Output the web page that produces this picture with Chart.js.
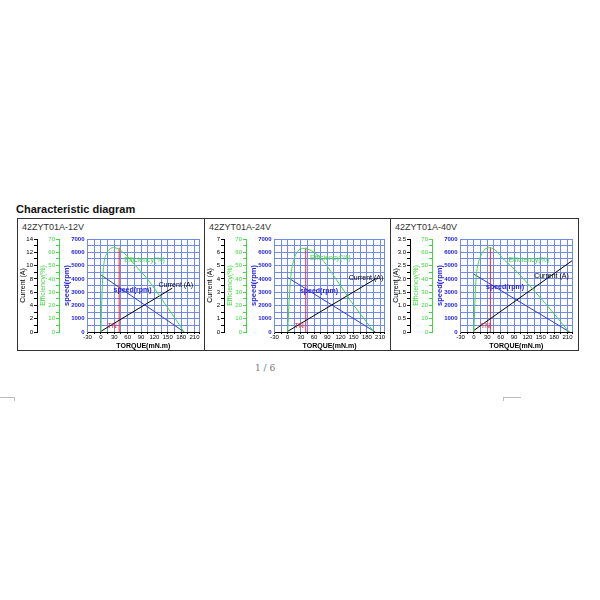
<!DOCTYPE html>
<html lang="en">
<head>
<meta charset="UTF-8">
<title>Characteristic diagram</title>
<script src="https://cdn.jsdelivr.net/npm/chart.js"></script>
<style>
  body { margin: 0; background: #fff; font-family: Arial, "Liberation Sans", sans-serif; }
  #page { position: relative; width: 600px; height: 600px; overflow: hidden; }
  h2 { position: absolute; left: 16px; top: 204px; margin: 0; font-size: 11px; line-height: 11px; font-weight: bold; color: #111; }
  #box { position: absolute; left: 17px; top: 218px; width: 560px; height: 131px; border: 1px solid #333; }
  .sep { position: absolute; top: 218px; width: 1px; height: 133px; background: #333; }
  .model { position: absolute; top: 223px; font-size: 9px; line-height: 9px; color: #333; }
  canvas { position: absolute; top: 232px; }
  #pageno { position: absolute; left: 255px; top: 364px; font-family: "DejaVu Serif", "Liberation Serif", serif; font-size: 9px; line-height: 9px; color: #777; }
  .mark { position: absolute; background: #bbb; }
</style>
</head>
<body>
<div id="page">
  <h2>Characteristic diagram</h2>
  <div id="box"></div>
  <div class="sep" style="left:204px"></div>
  <div class="sep" style="left:390px"></div>
  <div class="model" style="left:22px">42ZYT01A-12V</div>
  <div class="model" style="left:209px">42ZYT01A-24V</div>
  <div class="model" style="left:395px">42ZYT01A-40V</div>
  <canvas id="c12" width="186" height="118" style="left:18px"></canvas>
  <canvas id="c24" width="185" height="118" style="left:205px"></canvas>
  <canvas id="c40" width="187" height="118" style="left:391px"></canvas>
  <div id="pageno">1 / 6</div>
  <div class="mark" style="left:0;top:397px;width:14px;height:1px"></div>
  <div class="mark" style="left:14px;top:397px;width:1px;height:4px"></div>
  <div class="mark" style="left:503px;top:397px;width:18px;height:1px"></div>
  <div class="mark" style="left:503px;top:397px;width:1px;height:4px"></div>
</div>

<script>
// axis labels
const torqueLabels = [-30, 0, 30, 60, 90, 120, 150, 180, 210];
const currentMax = [14, 7, 3.5];
const currentLabelStep = [2, 1, 0.5];
const ratedTorque = [41, 41, 37];
const ratedTop = [6350, 6350, 6350];

// 12V
const effTorque12 = [0, 2, 4, 7, 13, 20, 29, 39, 58, 80, 103, 125, 148, 170, 186];
const effValue12 = [0, 23, 40, 52, 59, 62.5, 63.5, 62.5, 57.5, 49, 40.5, 30.5, 19, 8.5, 0];
const speedTorque12 = [0, 187];
const speedValue12 = [4300, 0];
const currentTorque12 = [0, 160];
const currentValue12 = [0.1, 6.6];

// 24V
const effTorque24 = [0, 4, 7.5, 15, 22.5, 34, 45, 64, 82.5, 101, 124, 146, 169, 187, 196];
const effValue24 = [0, 28, 43, 55.5, 60.5, 63, 62.5, 59, 53, 44, 33, 22, 12, 4, 0];
const speedTorque24 = [0, 199];
const speedValue24 = [4100, 0];
const currentTorque24 = [0, 202];
const currentValue24 = [0.05, 4.05];

// 40V
const effTorque40 = [0, 3, 5, 9, 16.5, 24, 35, 46.5, 69, 91.5, 114, 136.5, 159, 181.5, 200, 213];
const effValue40 = [0, 28, 40.5, 50.5, 58, 62, 63.5, 62, 54, 47, 39, 30.5, 22, 13, 5.5, 0];
const speedTorque40 = [0, 215];
const speedValue40 = [4350, 0];
const currentTorque40 = [0, 220];
const currentValue40 = [0.06, 2.68];

const green = '#3fd83f';
const blueText = '#2323e0';
const blueLine = '#3040c4';
const gridBlue = '#7089f0';
const red = '#ff2020';

function pts(xs, ys) {
    return xs.map((x, i) => ({ x: x, y: ys[i] }));
}

function makeChart(id, k, eff, speed, current, notes, padRight) {
    const gridTorque = [];
    for (let v = -30; v <= 210; v += 15) gridTorque.push(v);
    gridTorque.push(220);

    // curve names written inside the plot
    const curveText = {
        id: 'curveText',
        afterDatasetsDraw(chart) {
            const ctx = chart.ctx;
            ctx.save();
            ctx.textAlign = 'center';
            ctx.textBaseline = 'middle';
            notes.forEach(t => {
                ctx.font = (t.bold ? 'bold ' : '') + '7px Arial';
                ctx.fillStyle = t.color;
                ctx.fillText(t.text, chart.scales.x.getPixelForValue(t.x), chart.scales.yS.getPixelForValue(t.y));
            });
            ctx.restore();
        }
    };

    const cStep = currentLabelStep[k];
    new Chart(document.getElementById(id), {
        type: 'line',
        data: {
            datasets: [
                { data: pts(eff[0], eff[1]), yAxisID: 'yE', borderColor: green, cubicInterpolationMode: 'monotone' },
                { data: pts(speed[0], speed[1]), yAxisID: 'yS', borderColor: blueLine },
                { data: pts(current[0], current[1]), yAxisID: 'yC', borderColor: '#000' },
                { data: pts([ratedTorque[k], ratedTorque[k]], [0, ratedTop[k]]), yAxisID: 'yS', borderColor: red }
            ]
        },
        options: {
            responsive: false,
            animation: false,
            devicePixelRatio: 1,
            layout: { padding: { top: 7, right: padRight, bottom: 0, left: 0 } },
            elements: { point: { radius: 0 }, line: { borderWidth: 1 } },
            plugins: { legend: { display: false }, tooltip: { enabled: false } },
            scales: {
                x: {
                    type: 'linear', min: -30, max: 220,
                    afterBuildTicks: s => { s.ticks = gridTorque.map(v => ({ value: v })); },
                    afterFit: s => { s.height = 18; },
                    ticks: {
                        autoSkip: false, maxRotation: 0, padding: 0, color: '#000',
                        font: { size: 6 },
                        callback: v => torqueLabels.includes(v) ? String(v) : ''
                    },
                    grid: { color: gridBlue, tickColor: '#000', tickLength: 2 },
                    border: { color: '#000' },
                    title: { display: true, text: 'TORQUE(mN.m)', color: '#000', font: { size: 7, weight: 'bold' }, padding: 0 }
                },
                yS: {
                    type: 'linear', position: 'left', weight: 0, min: 0, max: 7000,
                    afterFit: s => { s.width = 28.5; },
                    ticks: {
                        stepSize: 500, maxTicksLimit: 100, autoSkip: false, padding: 3, color: blueText,
                        font: { size: 6, weight: 'bold' },
                        callback: v => v % 1000 === 0 ? String(v) : ''
                    },
                    grid: { color: gridBlue, drawTicks: false },
                    border: { color: gridBlue },
                    title: { display: true, text: 'speed(rpm)', color: blueText, font: { size: 7.5, weight: 'bold' }, padding: { top: 3, bottom: 0 } }
                },
                yE: {
                    type: 'linear', position: 'left', weight: 1, min: 0, max: 70,
                    afterFit: s => { s.width = 22; },
                    ticks: {
                        stepSize: 5, maxTicksLimit: 100, autoSkip: false, padding: 1, color: green,
                        font: { size: 6 },
                        callback: v => v % 10 === 0 ? String(v) : ''
                    },
                    grid: { display: true, drawOnChartArea: false, color: green, tickLength: 3 },
                    border: { color: green, dash: [1.5, 1.5] },
                    title: { display: true, text: 'Efficiency(%)', color: green, font: { size: 7 }, padding: { top: 1.5, bottom: 0 } }
                },
                yC: {
                    type: 'linear', position: 'left', weight: 2, min: 0, max: currentMax[k],
                    afterFit: s => { s.width = 19; },
                    ticks: {
                        stepSize: currentMax[k] / 14, maxTicksLimit: 100, autoSkip: false, padding: 1, color: '#000',
                        font: { size: 6 },
                        callback: v => {
                            const r = v / cStep;
                            if (Math.abs(r - Math.round(r)) > 1e-6) return '';
                            if (v === 0) return '0';
                            return cStep < 1 ? v.toFixed(1) : String(v);
                        }
                    },
                    grid: { display: true, drawOnChartArea: false, color: '#000', tickLength: 3 },
                    border: { color: '#000' },
                    title: { display: true, text: 'Current (A)', color: '#000', font: { size: 7 }, padding: { top: 1, bottom: 0 } }
                }
            }
        },
        plugins: [curveText]
    });
}

makeChart('c12', 0,
    [effTorque12, effValue12], [speedTorque12, speedValue12], [currentTorque12, currentValue12],
    [
        { text: 'Efficiency(%)', x: 98, y: 5425, color: green },
        { text: 'speed(rpm)', x: 71, y: 3175, color: blueText, bold: true },
        { text: 'Current (A)', x: 168, y: 3550, color: '#000' },
        { text: 'TN', x: 25, y: 425, color: red }
    ], 5);

makeChart('c24', 1,
    [effTorque24, effValue24], [speedTorque24, speedValue24], [currentTorque24, currentValue24],
    [
        { text: 'Efficiency(%)', x: 97, y: 5600, color: green },
        { text: 'speed(rpm)', x: 71, y: 3100, color: blueText, bold: true },
        { text: 'Current (A)', x: 178, y: 4050, color: '#000' },
        { text: 'TN', x: 26, y: 425, color: red }
    ], 5.5);

makeChart('c40', 2,
    [effTorque40, effValue40], [speedTorque40, speedValue40], [currentTorque40, currentValue40],
    [
        { text: 'Efficiency(%)', x: 123, y: 5425, color: green },
        { text: 'speed(rpm)', x: 70, y: 3375, color: blueText, bold: true },
        { text: 'Current (A)', x: 174, y: 4175, color: '#000' },
        { text: 'TN', x: 26, y: 425, color: red }
    ], 6);
</script>
</body>
</html>
